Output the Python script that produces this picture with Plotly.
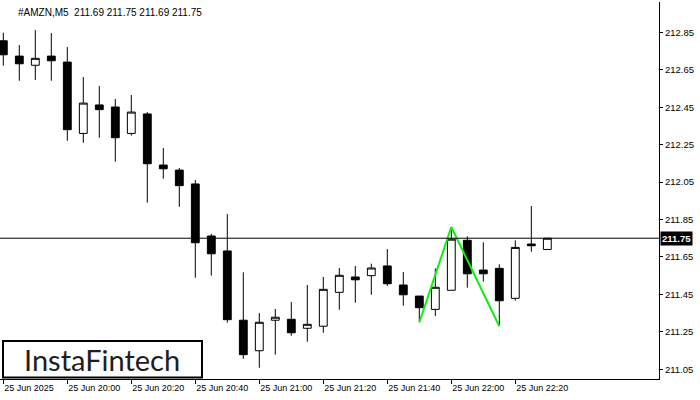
import plotly.graph_objects as go

# ---- data ----
idx = list(range(35))  # 5-minute bars, 19:40 .. 22:30
opens = [212.805, 212.723, 212.674, 212.723, 212.691, 212.310, 212.462, 212.451, 212.310, 212.414,
         212.141, 212.114, 212.040, 211.762, 211.682, 211.312, 211.149, 211.312, 211.317, 211.269,
         211.280, 211.461, 211.543, 211.550, 211.602, 211.500, 211.441, 211.370, 211.472, 211.739,
         211.580, 211.589, 211.429, 211.719, 211.690]
highs = [212.848, 212.782, 212.862, 212.846, 212.771, 212.611, 212.563, 212.494, 212.515, 212.424,
         212.232, 212.125, 212.061, 211.773, 211.879, 211.568, 211.351, 211.372, 211.409, 211.500,
         211.543, 211.591, 211.602, 211.614, 211.692, 211.570, 211.441, 211.589, 211.808, 211.760,
         211.728, 211.611, 211.739, 211.922, 211.750]
lows = [212.672, 212.591, 212.595, 212.591, 212.271, 212.260, 212.287, 212.159, 212.298, 211.940,
        212.068, 211.918, 211.539, 211.550, 211.299, 211.106, 211.058, 211.128, 211.229, 211.197,
        211.245, 211.368, 211.406, 211.448, 211.495, 211.390, 211.304, 211.335, 211.472, 211.486,
        211.518, 211.283, 211.416, 211.678, 211.690]
closes = [212.730, 212.682, 212.711, 212.698, 212.330, 212.472, 212.437, 212.287, 212.424, 212.148,
          212.121, 212.031, 211.726, 211.667, 211.315, 211.128, 211.301, 211.328, 211.245, 211.290,
          211.477, 211.552, 211.528, 211.591, 211.507, 211.448, 211.379, 211.488, 211.745, 211.560,
          211.560, 211.416, 211.701, 211.710, 211.750]

x_tick_idx = [0, 4, 8, 12, 16, 20, 24, 28, 32]
x_tick_labels = ["25 Jun 2025", "25 Jun 20:00", "25 Jun 20:20", "25 Jun 20:40", "25 Jun 21:00",
                 "25 Jun 21:20", "25 Jun 21:40", "25 Jun 22:00", "25 Jun 22:20"]
y_ticks = [211.05, 211.25, 211.45, 211.65, 211.85, 212.05, 212.25, 212.45, 212.65, 212.85]
y_tick_labels = ["211.05", "211.25", "211.45", "211.65", "211.85", "212.05", "212.25", "212.45", "212.65", "212.85"]

pattern_x = [26, 28, 31]
pattern_y = [211.30, 211.81, 211.28]

current_price = 211.75
title_text = "#AMZN,M5  211.69 211.75 211.69 211.75"
logo_text = "InstaFintech"

AX_FONT = dict(family="Liberation Sans, Arial, sans-serif", size=9.5, color="black")

fig = go.Figure()
fig.add_trace(go.Candlestick(
    x=idx, open=opens, high=highs, low=lows, close=closes,
    increasing=dict(line=dict(color="black", width=1), fillcolor="white"),
    decreasing=dict(line=dict(color="black", width=1), fillcolor="black"),
    whiskerwidth=0, hoverinfo="skip",
))
fig.add_trace(go.Scatter(
    x=pattern_x, y=pattern_y, mode="lines",
    line=dict(color="#10ee10", width=2), hoverinfo="skip",
))

fig.add_shape(type="line", xref="paper", x0=0, x1=1, yref="y",
              y0=current_price, y1=current_price, line=dict(color="black", width=1))

# logo box
fig.add_shape(type="rect", xref="paper", yref="paper",
              x0=3 / 659, x1=202 / 659, y0=(379 - 377.5) / 377, y1=(379 - 341) / 377,
              line=dict(color="black", width=2), fillcolor="white", layer="above")
fig.add_annotation(xref="paper", yref="paper", x=102 / 659, y=(379 - 359.5) / 377,
                   text=logo_text, showarrow=False, xanchor="center", yanchor="middle",
                   font=dict(family="Lato, Open Sans, sans-serif", size=29, color="#1e1e1e"))

# title
fig.add_annotation(xref="paper", yref="paper", x=16 / 659, y=(379 - 13) / 377,
                   text=title_text, showarrow=False, xanchor="left", yanchor="middle",
                   font=dict(family="Liberation Sans, Arial, sans-serif", size=10, color="black"))

# current price label
fig.add_annotation(xref="paper", yref="y", x=1, y=current_price, xanchor="left", yanchor="middle",
                   xshift=1, text="<b>" + f"{current_price:.2f}" + "</b>", showarrow=False,
                   bgcolor="black", borderpad=1,
                   font=dict(family="Liberation Sans, Arial, sans-serif", size=9.5, color="white"))

fig.update_layout(
    width=700, height=400,
    margin=dict(l=0, r=41, t=2, b=21, autoexpand=False),
    paper_bgcolor="white", plot_bgcolor="white",
    showlegend=False,
    xaxis=dict(
        range=[-0.206, 40.98], rangeslider=dict(visible=False), automargin=False,
        tickmode="array", tickvals=x_tick_idx, ticktext=x_tick_labels,
        ticks="outside", ticklen=4, tickcolor="black",
        ticklabelposition="outside right",
        showgrid=False, zeroline=False, showline=True, linecolor="black", linewidth=1,
        tickfont=dict(family="Liberation Sans, Arial, sans-serif", size=9, color="black"),
    ),
    yaxis=dict(
        range=[210.998, 213.012], side="right", automargin=False,
        tickmode="array", tickvals=y_ticks, ticktext=y_tick_labels,
        ticks="outside", ticklen=3, tickcolor="black",
        showgrid=False, zeroline=False, showline=True, linecolor="black", linewidth=1,
        tickfont=AX_FONT,
    ),
)

fig.write_html("out.html", config={"displayModeBar": False},
               post_script="document.body.style.margin='0px';document.body.style.padding='0px';")
